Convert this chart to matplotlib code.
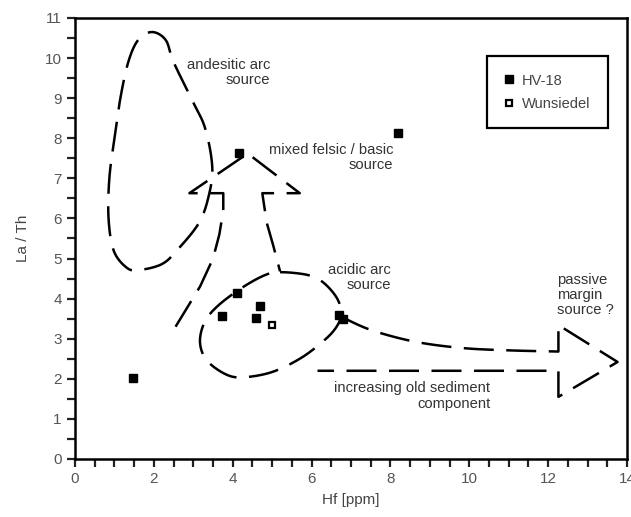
import numpy as np
import matplotlib
matplotlib.use("Agg")
from matplotlib import pyplot as plt
from matplotlib.ticker import MultipleLocator

plt.rcParams['font.family'] = ['Liberation Sans', 'DejaVu Sans']

# Sample data (Hf [ppm], La/Th)
hv18_hf = [1.48, 3.73, 4.12, 4.6, 4.68, 4.16, 6.7, 6.8, 8.2]
hv18_lath = [2.02, 3.57, 4.13, 3.52, 3.82, 7.63, 3.6, 3.5, 8.12]
wun_hf = [5.0]
wun_lath = [3.35]

# Source fields (hand drawn outlines, data coordinates)
andesitic_field = [(1.95, 10.65), (2.3, 10.45), (2.5, 9.9), (2.97, 8.95), (3.3, 8.25),
                   (3.48, 7.3), (3.4, 6.6), (3.15, 5.9), (2.6, 5.22), (2.2, 4.86),
                   (1.6, 4.71), (1.3, 4.78), (0.98, 5.2), (0.85, 6.0), (0.87, 7.0),
                   (1.0, 8.0), (1.15, 9.0), (1.35, 9.9), (1.6, 10.45)]
acidic_field = [(5.2, 4.66), (5.9, 4.59), (6.3, 4.4), (6.65, 4.0), (6.75, 3.6),
                (6.6, 3.25), (6.25, 2.9), (5.7, 2.5), (5.0, 2.17), (4.3, 2.04),
                (3.85, 2.1), (3.35, 2.45), (3.17, 2.9), (3.28, 3.4), (3.6, 3.8),
                (4.2, 4.25), (4.8, 4.58)]
mixed_arrow = [(2.55, 3.3), (3.17, 4.3), (3.5, 5.0), (3.66, 5.6), (3.76, 6.2),
               (3.76, 6.63), (2.9, 6.63), (4.38, 7.62), (5.7, 6.63), (4.75, 6.63),
               (4.86, 5.9), (5.02, 5.35), (5.2, 4.68)]
sediment_upper = [(6.75, 3.55), (7.5, 3.22), (8.6, 2.93), (9.8, 2.77), (11.0, 2.71),
                  (12.26, 2.68)]
sediment_head = [(12.26, 2.68), (12.26, 3.34), (13.76, 2.42), (12.26, 1.55),
                 (12.26, 2.2), (6.15, 2.2)]


def smooth(pts, closed=False, n=20):
    p = np.array(pts, dtype=float)
    if closed:
        p = np.vstack([p[-1], p, p[0], p[1]])
    else:
        p = np.vstack([p[0], p, p[-1]])
    out = []
    for i in range(1, len(p) - 2):
        p0, p1, p2, p3 = p[i - 1], p[i], p[i + 1], p[i + 2]
        for t in np.linspace(0, 1, n, endpoint=False):
            out.append(0.5 * ((2 * p1) + (-p0 + p2) * t
                              + (2 * p0 - 5 * p1 + 4 * p2 - p3) * t ** 2
                              + (-p0 + 3 * p1 - 3 * p2 + p3) * t ** 3))
    out.append(p[-2])
    return np.array(out)


fig = plt.figure(figsize=(6.31, 5.17), dpi=100)
ax = fig.add_axes([0.1189, 0.1122, 0.8748, 0.853])

dash = dict(color='black', lw=1.8, linestyle=(0, (12, 5)), solid_capstyle='butt',
            dash_capstyle='butt')
for shape in (andesitic_field, acidic_field):
    c = smooth(shape, closed=True)
    ax.plot(c[:, 0], c[:, 1], **dash)
arr = np.array(mixed_arrow)
ax.plot(arr[:, 0], arr[:, 1], **dash)
up = smooth(sediment_upper)
head = np.array(sediment_head)
sed = np.vstack([up, head[1:]])
ax.plot(sed[:, 0], sed[:, 1], **dash)

ax.plot(hv18_hf, hv18_lath, 's', color='black', ms=6, label='HV-18', zorder=5)
ax.plot(wun_hf, wun_lath, 's', mfc='white', mec='black', mew=1.6, ms=5,
        label='Wunsiedel', zorder=5)

txt = dict(fontsize=10.6, color='#333333', linespacing=1.1)
ax.text(4.95, 9.65, 'andesitic arc\nsource', ha='right', va='center', **txt)
ax.text(8.07, 7.53, 'mixed felsic / basic\nsource', ha='right', va='center', **txt)
ax.text(8.02, 4.53, 'acidic arc\nsource', ha='right', va='center', **txt)
ax.text(12.23, 4.09, 'passive\nmargin\nsource ?', ha='left', va='center', **txt)
ax.text(10.53, 1.57, 'increasing old sediment\ncomponent', ha='right', va='center', **txt)

ax.set_xlim(0, 14)
ax.set_ylim(0, 11)
ax.xaxis.set_major_locator(MultipleLocator(2))
ax.xaxis.set_minor_locator(MultipleLocator(0.5))
ax.yaxis.set_major_locator(MultipleLocator(1))
ax.yaxis.set_minor_locator(MultipleLocator(0.5))
ax.tick_params(which='both', direction='out', length=6, width=1.6, color='#222222',
               top=False, right=False, labelsize=11, labelcolor='#555555')
for s in ax.spines.values():
    s.set_linewidth(1.8)
ax.set_xlabel('Hf [ppm]', fontsize=11, color='#444444', labelpad=5)
ax.set_ylabel('La / Th', fontsize=11, color='#444444', labelpad=11)

leg = ax.legend(loc='upper right', bbox_to_anchor=(0.9656, 0.9138), borderaxespad=0,
                fancybox=False, framealpha=1, edgecolor='black', fontsize=10.5,
                handlelength=0.6, handletextpad=0.6, borderpad=1.2, labelspacing=0.65,
                numpoints=1, markerscale=0.85)
leg.get_frame().set_linewidth(1.6)
for t in leg.get_texts():
    t.set_color('#444444')

fig.savefig('out.png', dpi=100)
